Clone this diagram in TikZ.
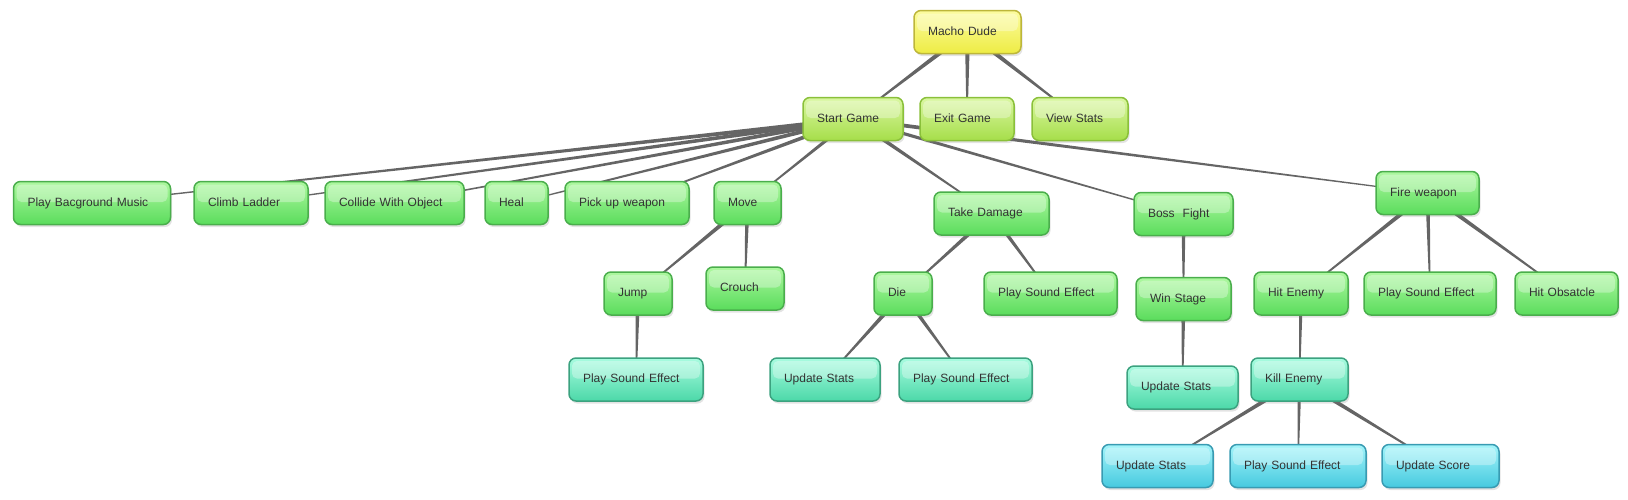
\documentclass[tikz,border=0pt]{standalone}
\usepackage{fontspec}
\setmainfont{Liberation Sans}
\usetikzlibrary{calc,shadows}
\definecolor{edgecol}{HTML}{656565}
\definecolor{txt}{HTML}{333333}
\definecolor{yTop}{HTML}{FCFCA0}
\definecolor{yBot}{HTML}{EEEC44}
\definecolor{yBrd}{HTML}{BDB63A}
\definecolor{lTop}{HTML}{DAF7A2}
\definecolor{lBot}{HTML}{A6DE4A}
\definecolor{lBrd}{HTML}{8AC03A}
\definecolor{gTop}{HTML}{AEF8A0}
\definecolor{gBot}{HTML}{5ADC5C}
\definecolor{gBrd}{HTML}{4AAE4C}
\definecolor{mTop}{HTML}{A8FCE0}
\definecolor{mBot}{HTML}{4CD8A8}
\definecolor{mBrd}{HTML}{3CA27F}
\definecolor{cTop}{HTML}{A4F4FA}
\definecolor{cBot}{HTML}{46CADF}
\definecolor{cBrd}{HTML}{389BB2}
\pgfdeclarelayer{bg}
\pgfsetlayers{bg,main}
\tikzset{
  box/.style={rounded corners=7pt, line width=1.5pt, minimum height=43pt,
    inner xsep=14pt, inner ysep=0pt, align=left, text height=9pt, text depth=2.5pt,
    font=\fontsize{12pt}{14pt}\selectfont, text=txt,
    drop shadow={opacity=0.22, shadow xshift=1.5pt, shadow yshift=-2.5pt},
    path picture={\fill[white,opacity=0.32,rounded corners=5pt]
      ([xshift=3pt,yshift=-3pt]path picture bounding box.north west) rectangle
      ([xshift=-3pt,yshift=1pt]path picture bounding box.east);}},
  lvlzero/.style={box, draw=yBrd, top color=yTop, bottom color=yBot},
  lvlone/.style={box, draw=lBrd, top color=lTop, bottom color=lBot},
  lvltwo/.style={box, draw=gBrd, top color=gTop, bottom color=gBot},
  lvlthree/.style={box, draw=mBrd, top color=mTop, bottom color=mBot},
  lvlfour/.style={box, draw=cBrd, top color=cTop, bottom color=cBot},
}
\newcommand\conn[3]{%
  \fill[edgecol] ($(#1.center)!#3!90:(#2.center)$) -- ($(#2.center)!0.5pt!-90:(#1.center)$)
    -- ($(#2.center)!0.5pt!90:(#1.center)$) -- ($(#1.center)!#3!-90:(#2.center)$) -- cycle;}
\begin{document}
\begin{tikzpicture}[x=1pt,y=-1pt]
\useasboundingbox (0,0) rectangle (1628,499);
% level 0
\node[lvlzero, text width=79pt] (macho) at (967.5,32) {Macho Dude};
% level 1
\node[lvlone, text width=72pt] (start) at (853,119) {Start Game};
\node[lvlone, text width=66pt] (exit) at (967,119) {Exit Game};
\node[lvlone, text width=68pt] (view) at (1080,119) {View Stats};
% level 2
\node[lvltwo, text width=129pt] (pbm) at (92,203) {Play Bacground Music};
\node[lvltwo, text width=86pt] (climb) at (251,203) {Climb Ladder};
\node[lvltwo, text width=111pt] (collide) at (394.5,203) {Collide With Object};
\node[lvltwo, text width=35pt] (heal) at (516.5,203) {Heal};
\node[lvltwo, text width=96pt] (pickup) at (627,203) {Pick up weapon};
\node[lvltwo, text width=39pt] (move) at (747.5,203) {Move};
\node[lvltwo, text width=87pt] (takedmg) at (991.5,213.5) {Take Damage};
\node[lvltwo, text width=71pt] (boss) at (1183.5,214) {Boss\ \ Fight};
\node[lvltwo, text width=75pt] (fire) at (1427.5,193) {Fire weapon};
% level 3
\node[lvltwo, text width=40pt] (jump) at (638,293.5) {Jump};
\node[lvltwo, text width=50pt] (crouch) at (745,288.5) {Crouch};
\node[lvltwo, text width=30pt] (die) at (903,293.5) {Die};
\node[lvltwo, text width=105pt] (psetd) at (1050.5,293.5) {Play Sound Effect};
\node[lvltwo, text width=67pt] (win) at (1183.5,299) {Win Stage};
\node[lvltwo, text width=66pt] (hitenemy) at (1301,293.5) {Hit Enemy};
\node[lvltwo, text width=104pt] (psefw) at (1430,293.5) {Play Sound Effect};
\node[lvltwo, text width=75pt] (hitobs) at (1566.5,293.5) {Hit Obsatcle};
% level 4
\node[lvlthree, text width=106pt] (psej) at (636,379.5) {Play Sound Effect};
\node[lvlthree, text width=82pt] (usd) at (825,379.5) {Update Stats};
\node[lvlthree, text width=105pt] (psed) at (965.5,379.5) {Play Sound Effect};
\node[lvlthree, text width=83pt] (usw) at (1182.5,387.5) {Update Stats};
\node[lvlthree, text width=69pt] (kill) at (1299.5,379.5) {Kill Enemy};
% level 5
\node[lvlfour, text width=83pt] (usk) at (1157.5,466) {Update Stats};
\node[lvlfour, text width=108pt] (psek) at (1298,466) {Play Sound Effect};
\node[lvlfour, text width=89pt] (score) at (1440.5,466) {Update Score};
% connectors
\begin{pgfonlayer}{bg}
\conn{macho}{start}{2.6pt}
\conn{macho}{exit}{2.6pt}
\conn{macho}{view}{2.6pt}
\conn{start}{pbm}{2.2pt}
\conn{start}{climb}{2.2pt}
\conn{start}{collide}{2.2pt}
\conn{start}{heal}{2.2pt}
\conn{start}{pickup}{2.2pt}
\conn{start}{move}{2pt}
\conn{start}{takedmg}{2.2pt}
\conn{start}{boss}{1.8pt}
\conn{start}{fire}{2pt}
\conn{move}{jump}{2.4pt}
\conn{move}{crouch}{2.2pt}
\conn{jump}{psej}{2.2pt}
\conn{takedmg}{die}{2.4pt}
\conn{takedmg}{psetd}{2.2pt}
\conn{die}{usd}{2.4pt}
\conn{die}{psed}{2.2pt}
\conn{boss}{win}{2.2pt}
\conn{win}{usw}{2.2pt}
\conn{fire}{hitenemy}{2.4pt}
\conn{fire}{psefw}{2.2pt}
\conn{fire}{hitobs}{2.4pt}
\conn{hitenemy}{kill}{2pt}
\conn{kill}{usk}{2.4pt}
\conn{kill}{psek}{2pt}
\conn{kill}{score}{2.4pt}
\end{pgfonlayer}
\end{tikzpicture}
\end{document}
